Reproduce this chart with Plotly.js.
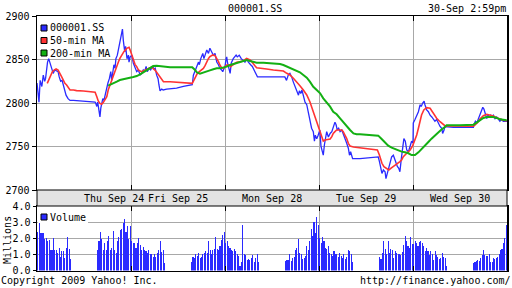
<!DOCTYPE html>
<html><head><meta charset="utf-8">
<script src="https://cdn.plot.ly/plotly-3.0.1.min.js"></script>
<style>html,body{margin:0;padding:0;background:#fff}#chart{width:512px;height:288px}</style>
</head><body><div id="chart"></div>
<script>
// ---- data (x = trading minutes since Thu 09:30, 330 min per day incl. lunch) ----
const title = '000001.SS';
const stamp = '30-Sep 2:59pm';
const dayLabels = ['Thu Sep 24','Fri Sep 25','Mon Sep 28','Tue Sep 29','Wed Sep 30'];
const priceTicks = [2700, 2750, 2800, 2850, 2900];
const volTicks = [0, 1, 2, 3, 4];
const volTickText = ['0.0','1.0','2.0','3.0','4.0'];

const priceT = [0,3,7,11,14,17,22,27,30,34,37,41,43,48,53,57,62,67,74,78,83,88,92,97,102,109,116,128,163,186,204,206,210,213,217,221,224,227,231,235,240,245,249,254,259,262,266,270,274,277,282,287,291,296,300,303,308,311,316,321,323,327,
333,338,344,350,356,362,367,373,378,383,387,394,399,406,411,415,420,425,428,432,438,443,455,490,514,537,545,549,555,561,567,570,575,582,586,591,596,602,607,613,619,625,631,637,642,648,652,657,660,
664,666,669,674,678,682,689,699,703,710,717,724,730,736,742,750,756,765,774,783,830,870,876,882,888,894,900,906,912,918,921,926,930,935,941,947,953,958,964,970,974,977,982,987,
993,997,1002,1005,1009,1013,1017,1023,1029,1035,1040,1046,1050,1054,1059,1064,1070,1075,1081,1087,1093,1097,1101,1108,1134,1169,1198,1202,1207,1211,1216,1222,1225,1230,1235,1239,1245,1251,1256,1260,1265,1270,1274,1279,1284,1288,1293,1298,1304,1310,1315,1320,
1321,1327,1333,1339,1345,1349,1354,1359,1362,1368,1374,1380,1386,1391,1397,1403,1409,1415,1421,1424,1429,1432,1462,1532,1534,1539,1544,1549,1555,1561,1565,1569,1574,1579,1583,1588,1593,1597,1602,1608,1614,1620,1625,1631,1637,1643,1650];
const priceV = [2823,2815,2801,2826,2823,2819,2832,2825,2828,2840,2847,2851,2849,2844,2838,2834,2838,2837,2836,2830,2825,2826,2821,2813,2809,2805,2803,2803,2802,2801.5,2801,2800,2796,2801,2790,2784,2794,2798,2805,2803,2811,2819,2823,2828,2836,2826,2834,2844,2840,2851,2855,2863,2872,2880,2885,2872,2859,2865,2851,2855,2847,2853,
2855,2846,2840,2836,2838,2832,2834,2838,2836,2842,2836,2840,2838,2842,2839,2840,2832,2828,2821,2814,2816,2815,2816,2817,2819,2821,2821,2832,2838,2842,2847,2844,2851,2857,2851,2855,2861,2857,2863,2859,2855,2857,2847,2844,2840,2838,2836,2840,2842,
2851,2853,2846,2838,2834,2846,2851,2855,2853,2855,2851,2849,2847,2851,2847,2844,2842,2836,2830,2830,2830,2830,2826,2832,2834,2830,2824,2819,2813,2809,2814,2811,2815,2809,2801,2798,2788,2782,2771,2767,2756,2763,2759,2763,
2769,2750,2744,2740,2752,2759,2767,2761,2765,2767,2773,2778,2775,2769,2771,2767,2769,2765,2761,2754,2748,2740,2744,2736,2736,2737,2738,2733,2725,2719,2723,2721,2713,2719,2725,2733,2738,2740,2735,2733,2727,2725,2721,2736,2754,2759,2756,2746,2744,2750,2756,2754,
2777,2781,2786,2790,2798,2796,2800,2802,2798,2792,2790,2786,2784,2782,2779,2781,2777,2773,2771,2765,2769,2773,2772,2772,2775,2779,2777,2781,2786,2792,2795,2793,2786,2782,2786,2784,2786,2784,2786,2782,2784,2781,2779,2781,2779,2779,2779];

const ma50T = [36,43,48,54,60,67,74,78,83,88,92,98,104,110,116,128,139,163,186,204,210,215,221,227,233,239,245,250,256,262,268,274,280,286,291,297,305,315,323,327,
332,338,344,350,356,362,367,373,379,385,391,397,403,408,414,420,426,432,438,444,467,490,514,537,545,551,557,563,570,578,584,590,596,602,607,617,625,631,637,642,648,654,660,
666,674,680,687,695,701,713,724,736,742,748,754,760,765,771,783,806,830,865,877,888,900,912,923,935,947,958,964,970,976,982,987,
991,996,1001,1005,1011,1017,1029,1035,1040,1046,1052,1070,1075,1081,1087,1093,1099,1111,1134,1157,1181,1195,1202,1207,1211,1218,1228,1235,1242,1251,1260,1269,1274,1280,1286,1298,1310,1319,
1327,1333,1339,1345,1350,1358,1368,1380,1386,1391,1397,1403,1415,1426,1432,1438,1485,1532,1538,1544,1549,1555,1567,1579,1590,1602,1614,1625,1637,1649];
const ma50V = [2822.6,2828.4,2832.2,2836.0,2837.9,2839.1,2837.9,2836.0,2832.2,2829.1,2826.4,2822.6,2820.7,2817.6,2814.9,2814.9,2814.2,2813.8,2813.0,2812.3,2807.3,2802.3,2799.6,2798.5,2800.8,2803.4,2807.3,2814.9,2820.7,2826.4,2830.3,2836.0,2841.8,2847.5,2851.3,2855.2,2859.0,2862.8,2864.0,2860.9,
2855.2,2849.4,2844.4,2841.8,2837.9,2836.8,2836.0,2836.8,2837.9,2839.1,2839.8,2840.6,2841.0,2839.8,2837.9,2835.3,2832.2,2829.1,2826.4,2824.5,2824.5,2823.8,2823.4,2822.6,2822.6,2826.4,2830.3,2834.1,2836.0,2837.9,2839.8,2842.9,2847.5,2851.3,2853.3,2855.2,2854.4,2851.3,2847.5,2843.7,2840.6,2839.8,2841.8,
2843.7,2843.7,2841.8,2843.7,2845.6,2846.7,2847.5,2848.3,2851.3,2850.6,2849.4,2847.5,2844.4,2842.9,2840.6,2839.8,2839.1,2837.9,2836.8,2834.1,2832.2,2828.4,2824.5,2819.9,2814.9,2809.2,2801.5,2795.8,2788.1,2782.4,2776.6,2772.8,
2769.0,2763.2,2758.6,2756.3,2757.5,2757.9,2758.6,2761.3,2765.1,2767.1,2769.0,2769.0,2767.1,2763.2,2759.4,2753.6,2750.6,2749.4,2748.7,2747.9,2747.1,2746.0,2740.2,2735.6,2730.7,2726.8,2724.1,2723.0,2724.9,2726.8,2728.7,2731.4,2732.6,2734.5,2738.3,2742.2,2746.0,2751.0,
2757.5,2763.2,2770.9,2778.5,2786.2,2792.0,2794.6,2793.9,2790.8,2788.1,2785.4,2782.4,2778.5,2775.5,2773.9,2773.6,2773.6,2773.2,2774.7,2776.6,2778.5,2781.6,2785.4,2787.0,2786.2,2785.0,2783.1,2781.6,2780.1,2779.3];

const ma200T = [250,256,268,280,291,303,315,326,
338,350,362,373,385,397,408,420,432,444,467,514,545,555,561,572,584,596,607,619,631,642,654,
666,678,689,701,713,724,736,748,760,771,795,818,830,853,865,877,888,900,912,923,935,947,958,970,982,
994,1005,1017,1029,1040,1052,1064,1075,1087,1099,1111,1122,1134,1157,1181,1198,1210,1222,1233,1245,1257,1269,1280,1292,1304,1315,
1327,1339,1350,1362,1374,1385,1397,1409,1421,1432,1438,1485,1532,1543,1555,1567,1579,1602,1614,1625,1649];
const ma200V = [2819.9,2820.7,2822.6,2824.5,2826.4,2827.6,2828.4,2829.1,
2829.9,2831.0,2833.0,2835.3,2837.9,2840.6,2842.5,2842.9,2842.5,2841.4,2841.0,2841.0,2841.0,2837.9,2835.3,2833.7,2835.3,2836.8,2837.5,2838.7,2839.8,2839.8,2840.6,
2841.8,2843.7,2844.8,2846.4,2847.5,2848.3,2849.4,2848.3,2847.5,2846.4,2846.4,2846.0,2845.6,2844.8,2843.7,2841.8,2840.6,2839.1,2836.8,2835.3,2832.2,2829.1,2824.5,2818.7,2814.9,
2811.1,2805.4,2800.8,2795.8,2790.0,2787.0,2782.4,2777.8,2772.8,2769.0,2765.1,2764.0,2764.0,2763.2,2762.8,2762.5,2758.6,2754.8,2751.0,2748.7,2747.1,2744.8,2744.1,2743.3,2742.2,2740.2,
2740.2,2743.3,2746.7,2750.6,2755.2,2759.0,2762.8,2766.7,2769.7,2772.4,2774.3,2774.3,2775.1,2777.4,2780.1,2782.8,2784.0,2784.0,2782.8,2781.2,2780.1];

// volume in millions, 5-minute bars: 24 morning + 24 afternoon per day
const volSep24 = [2.4,3.0,2.35,2.3,2.3,1.95,2.0,1.85,1.9,1.3,1.3,2.0,1.3,1.25,1.1,1.4,0.85,1.2,1.2,0.8,1.4,2.1,1.35,0.7,
                  1.3,1.8,2.4,1.95,1.3,1.7,1.3,1.8,2.15,1.3,1.4,2.45,1.3,1.1,1.8,2.1,2.5,2.6,2.95,3.2,2.4,2.75,1.95,2.75];
const volSep25 = [1.8,1.7,1.7,1.4,1.7,2.0,1.6,1.3,1.45,1.3,1.2,1.1,1.3,1.0,1.05,0.85,1.0,0.85,1.1,1.3,1.8,1.15,1.3,0.45,
                  0.55,0.85,0.8,1.0,0.9,1.1,0.8,0.85,1.0,1.1,1.2,1.1,1.85,1.25,1.0,1.3,1.35,2.05,1.35,1.3,1.5,1.9,2.2,2.4];
const volSep28 = [1.7,1.85,1.55,1.4,1.3,1.2,1.35,1.2,1.0,0.9,0.25,0.5,2.85,1.05,0.95,0.65,0.7,0.65,0.75,0.95,0.5,0.75,1.05,0.55,
                  0.6,0.65,0.65,1.05,0.6,0.8,0.85,1.3,1.4,1.95,1.1,1.05,0.7,0.75,0.9,1.5,1.3,1.8,2.55,2.15,3.0,2.35,3.3,2.8];
const volSep29 = [2.0,1.7,2.05,1.8,1.4,1.35,1.5,1.1,1.0,0.9,1.2,1.05,1.0,0.85,1.1,0.9,0.8,1.0,0.7,0.85,1.3,1.2,1.05,0.55,
                  0.85,0.7,1.1,1.85,1.35,1.0,1.8,1.1,1.35,1.3,0.8,1.2,1.1,1.0,1.05,0.95,1.15,1.6,2.15,1.85,1.55,1.4,2.1,1.65];
const volSep30 = [1.65,1.8,1.7,1.5,1.75,1.8,1.7,1.5,1.2,1.4,1.2,0.95,1.2,1.05,0.65,1.2,0.95,0.85,0.7,0.75,1.1,0.85,0.75,0.3,
                  0.45,0.5,0.6,0.65,0.6,0.75,0.95,1.25,0.95,0.9,0.9,1.05,0.55,0.55,0.75,0.7,0.75,0.85,1.05,1.3,1.35,1.7,2.0,2.8];

// ---- build ----
const DAY = 330;               // 09:30-15:00
const sessions = [0, 210];     // 09:30 and 13:00 offsets
const volDays = [volSep24, volSep25, volSep28, volSep29, volSep30];
const volT = [], volV = [];
volDays.forEach((arr, d) => arr.forEach((v, i) => {
  const s = sessions[i < 24 ? 0 : 1];
  volT.push(d * DAY + s + 2.5 + 5 * (i % 24));
  volV.push(v);
}));
const dayBounds = dayLabels.map((_, i) => i * DAY).concat([dayLabels.length * DAY]);

const W = 512, H = 288;
const px = v => v / W, py = v => 1 - v / H;
const BLUE = '#2a2aff', RED = '#ff3333', GREEN = '#13b013';
const MONO = 'DejaVu Sans Mono';
const xDom = [px(37), px(507)];

const traces = [
  {x: priceT, y: priceV, type: 'scatter', mode: 'lines', line: {color: BLUE, width: 1.3}, xaxis: 'x', yaxis: 'y', hoverinfo: 'skip'},
  {x: ma50T, y: ma50V, type: 'scatter', mode: 'lines', line: {color: RED, width: 1.6}, xaxis: 'x', yaxis: 'y', hoverinfo: 'skip'},
  {x: ma200T, y: ma200V, type: 'scatter', mode: 'lines', line: {color: GREEN, width: 2}, xaxis: 'x', yaxis: 'y', hoverinfo: 'skip'},
  {x: volT, y: volV, type: 'bar', width: 3.8, marker: {color: BLUE, line: {width: 0}}, xaxis: 'x2', yaxis: 'y2', hoverinfo: 'skip'}
];

const gridC = '#a8a8a8';
const xCommon = {domain: xDom, range: [0, DAY * 5], tickvals: dayBounds, showticklabels: false,
  ticks: 'inside', ticklen: 5, tickcolor: '#000', showgrid: true, gridcolor: gridC, gridwidth: 1,
  showline: true, linecolor: '#000', linewidth: 1, mirror: 'ticks', zeroline: false, fixedrange: true};

const legendItems = [[title, BLUE, 28], ['50-min MA', RED, 40.5], ['200-min MA', GREEN, 53]];
const shapes = [
  // gray date band between panels
  {type: 'rect', xref: 'paper', yref: 'paper', x0: px(37), x1: px(507), y0: py(206), y1: py(190),
   fillcolor: '#e3e3e3', line: {color: '#000', width: 1}, layer: 'above'},
  // legend backgrounds
  {type: 'rect', xref: 'paper', yref: 'paper', x0: px(37.8), x1: px(111), y0: py(57.5), y1: py(17),
   fillcolor: '#fff', line: {width: 0}, layer: 'above'},
  {type: 'rect', xref: 'paper', yref: 'paper', x0: px(37.8), x1: px(88), y0: py(223), y1: py(207),
   fillcolor: '#fff', line: {width: 0}, layer: 'above'}
];
const annotations = [];
legendItems.forEach(([t, c, yc]) => {
  shapes.push({type: 'rect', xref: 'paper', yref: 'paper', x0: px(41), x1: px(47), y0: py(yc + 3), y1: py(yc - 3),
    fillcolor: c, line: {color: '#000', width: 1}, layer: 'above'});
  annotations.push({text: t, xref: 'paper', yref: 'paper', x: px(49), y: py(yc), xanchor: 'left', yanchor: 'middle',
    showarrow: false, font: {family: MONO, size: 10, color: '#000'}, borderpad: 0});
});
shapes.push({type: 'rect', xref: 'paper', yref: 'paper', x0: px(41), x1: px(47), y0: py(220), y1: py(214),
  fillcolor: BLUE, line: {color: '#000', width: 1}, layer: 'above'});
annotations.push({text: 'Volume', xref: 'paper', yref: 'paper', x: px(49), y: py(217.5), xanchor: 'left', yanchor: 'middle',
  showarrow: false, font: {family: MONO, size: 10, color: '#000'}, borderpad: 0});

dayLabels.forEach((t, i) => annotations.push({text: t, xref: 'x', yref: 'paper', x: i * DAY + DAY / 2, xshift: i === 0 ? 29.5 : 0,
  y: py(198.5), xanchor: 'center', yanchor: 'middle', showarrow: false, font: {family: MONO, size: 10, color: '#000'}, borderpad: 0}));

const txt = (t, x, y, xa) => ({text: t, xref: 'paper', yref: 'paper', x: px(x), y: py(y), xanchor: xa, yanchor: 'middle',
  showarrow: false, font: {family: MONO, size: 10, color: '#000'}, borderpad: 0});
annotations.push(txt(title, 255, 8, 'center'));
annotations.push(txt(stamp, 507, 8, 'right'));
annotations.push(txt('Copyright 2009 Yahoo! Inc.', 0, 280, 'left'));
annotations.push(txt('http://finance.yahoo.com/', 512, 280, 'right'));
annotations.push(Object.assign(txt('Millions', 7, 240, 'center'), {textangle: -90}));

const layout = {
  width: W, height: H, margin: {l: 0, r: 0, t: 0, b: 0}, paper_bgcolor: '#fff', plot_bgcolor: '#fff',
  showlegend: false, bargap: 0, font: {family: MONO, size: 10, color: '#000'},
  xaxis: Object.assign({}, xCommon, {anchor: 'y'}),
  yaxis: {domain: [py(190), py(16)], anchor: 'x', range: [2700, 2900], tickvals: priceTicks,
    ticks: 'outside', ticklen: 4, tickcolor: '#000', showgrid: true, gridcolor: gridC, gridwidth: 1,
    showline: true, linecolor: '#000', linewidth: 1.5, mirror: true, zeroline: false, fixedrange: true,
    tickfont: {family: MONO, size: 10, color: '#000'}},
  yaxis3: {overlaying: 'y', anchor: 'x', side: 'right', range: [2700, 2900], tickvals: priceTicks,
    ticks: 'inside', ticklen: 4, tickcolor: '#000', showticklabels: false, showgrid: false, showline: false, zeroline: false, fixedrange: true},
  xaxis2: Object.assign({}, xCommon, {anchor: 'y2'}),
  yaxis2: {domain: [py(270.5), py(206)], anchor: 'x2', range: [0, 4], tickvals: volTicks, ticktext: volTickText,
    ticks: 'outside', ticklen: 3, tickcolor: '#000', showgrid: true, gridcolor: gridC, gridwidth: 1,
    showline: true, linecolor: '#000', linewidth: 1.5, mirror: true, zeroline: false, fixedrange: true,
    tickfont: {family: MONO, size: 10, color: '#000'}},
  shapes: shapes, annotations: annotations
};

Plotly.newPlot('chart', traces, layout, {staticPlot: true, displayModeBar: false});
</script>
</body></html>
